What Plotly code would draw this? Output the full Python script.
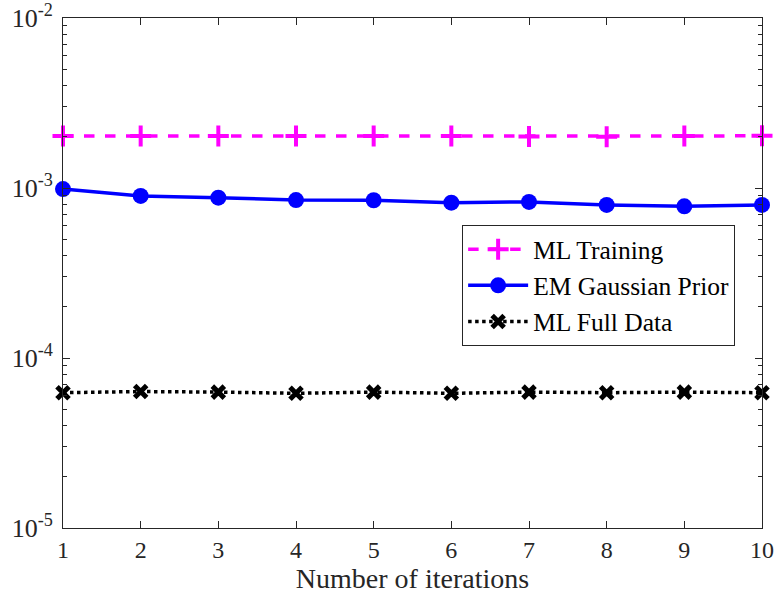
import plotly.graph_objects as go

iters = [1, 2, 3, 4, 5, 6, 7, 8, 9, 10]
ml_training = [2.02e-3, 2.02e-3, 2.02e-3, 2.02e-3, 2.02e-3, 2.02e-3, 2.01e-3, 2.00e-3, 2.02e-3, 2.03e-3]
em_gaussian = [9.86e-4, 8.98e-4, 8.77e-4, 8.49e-4, 8.47e-4, 8.20e-4, 8.28e-4, 7.95e-4, 7.80e-4, 7.95e-4]
ml_full = [6.25e-5, 6.35e-5, 6.3e-5, 6.2e-5, 6.3e-5, 6.2e-5, 6.3e-5, 6.25e-5, 6.3e-5, 6.25e-5]
ytick_vals = [1e-5, 1e-4, 1e-3, 1e-2]
ytick_text = ["10<sup>-5</sup>", "10<sup>-4</sup>", "10<sup>-3</sup>", "10<sup>-2</sup>"]
minor_vals = [k * d for d in [1e-5, 1e-4, 1e-3] for k in range(2, 10)]

axis_color = "#262626"
font_family = "Liberation Serif"

fig = go.Figure()
fig.add_trace(go.Scatter(
    x=iters, y=ml_training, name="ML Training", mode="lines+markers", cliponaxis=False,
    line=dict(color="#ff00ff", width=3.5, dash="dash"),
    marker=dict(symbol="cross-thin", size=15, line=dict(color="#ff00ff", width=4)),
))
fig.add_trace(go.Scatter(
    x=iters, y=em_gaussian, name="EM Gaussian Prior", mode="lines+markers", cliponaxis=False,
    line=dict(color="#0000ff", width=3.5),
    marker=dict(symbol="circle", size=16, color="#0000ff"),
))
fig.add_trace(go.Scatter(
    x=iters, y=ml_full, name="ML Full Data", mode="lines+markers", cliponaxis=False,
    line=dict(color="#000000", width=3.5, dash="dot"),
    marker=dict(symbol="x-thin", size=12, line=dict(color="#000000", width=5)),
))

fig.update_layout(
    width=778, height=604,
    margin=dict(l=63, r=16, t=18, b=76),
    paper_bgcolor="white", plot_bgcolor="white",
    font=dict(family=font_family, size=24, color=axis_color),
    showlegend=True,
    legend=dict(
        x=0.571, y=0.594, xanchor="left", yanchor="top",
        bgcolor="white", bordercolor=axis_color, borderwidth=1,
        font=dict(family=font_family, size=25.5, color="black"),
        itemwidth=60, tracegroupgap=0,
    ),
)
fig.update_xaxes(
    range=[1, 10], tickvals=iters, ticks="inside", ticklen=7, tickcolor=axis_color,
    showline=True, linecolor=axis_color, linewidth=1, mirror="ticks",
    showgrid=False, zeroline=False, automargin=False,
    tickfont=dict(size=24, color=axis_color),
    title=dict(text="Number of iterations", font=dict(size=28, color=axis_color), standoff=6),
)
fig.update_yaxes(
    type="log", range=[-5, -2], tickvals=ytick_vals, ticktext=ytick_text,
    ticks="inside", ticklen=7, tickcolor=axis_color, ticklabelstandoff=4,
    minor=dict(tickvals=minor_vals, ticks="inside", ticklen=4, tickcolor=axis_color, showgrid=False),
    showline=True, linecolor=axis_color, linewidth=1, mirror="ticks",
    showgrid=False, zeroline=False, automargin=False,
    tickfont=dict(size=26, color=axis_color),
)

fig.write_html("out.html")
